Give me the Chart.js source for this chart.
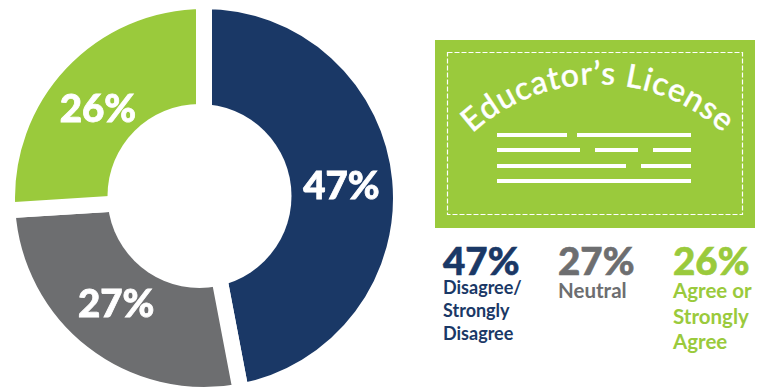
<!DOCTYPE html>
<html>
<head>
<meta charset="utf-8">
<title>Educator's License</title>
<script src="https://cdn.jsdelivr.net/npm/chart.js@4"></script>
<style>
  html, body { margin: 0; padding: 0; background: #fff; }
  body { width: 770px; height: 387px; overflow: hidden; position: relative; font-family: Lato, sans-serif; }
  #donut { position: absolute; left: -1px; top: -7px; }
  #card { position: absolute; left: 435px; top: 40px; }
  .key { position: absolute; top: 238px; }
  .key b { display: block; font-size: 38.5px; line-height: 44px; font-weight: 900; margin-bottom: -6px; -webkit-text-stroke: 0.6px currentColor; }
  .key span { display: block; font-size: 18px; line-height: 23px; font-weight: 700; }
  .key.wide b { margin-bottom: -4px; }
  .key.wide span { font-size: 20.5px; line-height: 25.5px; }
</style>
</head>
<body>
<canvas id="donut" width="410" height="410"></canvas>

<svg id="card" width="320" height="188" viewBox="0 0 320 188">
  <rect width="320" height="188" fill="#9aca3c"/>
  <rect x="12.5" y="12.5" width="295" height="162" fill="none" stroke="#fff" stroke-width="1.2" stroke-dasharray="5 2"/>
  <path id="curve" d="M 20 112 A 185 185 0 0 1 306 112" fill="none"/>
  <text font-family="Lato" font-size="32" font-weight="500" letter-spacing="0.9" fill="#fff" stroke="#fff" stroke-width="0.4" text-anchor="middle">
    <textPath href="#curve" startOffset="50%">Educator’s License</textPath>
  </text>
  <g id="rows" fill="#fff"></g>
</svg>

<div id="keys"></div>

<script>
const categories = ["Disagree/ Strongly Disagree", "Neutral", "Agree or Strongly Agree"];
const values = [47, 27, 26];
const colors = ["#1a3866", "#6d6e70", "#9aca3c"];
const keyLines = [["Disagree/", "Strongly", "Disagree"], ["Neutral"], ["Agree or", "Strongly", "Agree"]];
const keyLeft = [443, 558, 673];

// little text lines on the license card: [x, width] per row
const cardRows = [
    [[62, 70], [142, 114]],
    [[62, 83], [160, 43], [218, 38]],
    [[62, 129], [206, 50]],
    [[62, 194]]
];
const cardRowY = [93, 108, 124, 139];

const rows = document.getElementById("rows");
cardRows.forEach((row, i) => {
    row.forEach(seg => {
        const r = document.createElementNS("http://www.w3.org/2000/svg", "rect");
        r.setAttribute("x", seg[0]);
        r.setAttribute("y", cardRowY[i]);
        r.setAttribute("width", seg[1]);
        r.setAttribute("height", 4);
        rows.appendChild(r);
    });
});

const keys = document.getElementById("keys");
values.forEach((v, i) => {
    keys.innerHTML += `
    <div class="key${i > 0 ? " wide" : ""}" style="left:${keyLeft[i]}px;color:${colors[i]}">
        <b>${v}%</b>
        ${keyLines[i].map(l => `<span>${l}</span>`).join("")}
    </div>`;
});

// the hole sits a little up and left of the ring's centre
const offsetHole = {
    id: "offsetHole",
    afterDatasetsDraw(chart) {
        const arc = chart.getDatasetMeta(0).data[0];
        const ctx = chart.ctx;
        ctx.save();
        ctx.fillStyle = "#fff";
        ctx.beginPath();
        ctx.arc(arc.x - 4.5, arc.y - 2, 92, 0, Math.PI * 2);
        ctx.fill();
        ctx.restore();
    }
};

// percent labels on the slices, nudged from the arc midpoints
const labelNudge = [[-2, 2], [-2, -4], [-4, 7]];
const sliceLabels = {
    id: "sliceLabels",
    afterDraw(chart) {
        const ctx = chart.ctx;
        ctx.save();
        ctx.fillStyle = "#fff";
        ctx.strokeStyle = "#fff";
        ctx.lineWidth = 0.8;
        ctx.font = "900 38.5px Lato";
        ctx.textAlign = "center";
        ctx.textBaseline = "middle";
        chart.getDatasetMeta(0).data.forEach((arc, i) => {
            const mid = (arc.startAngle + arc.endAngle) / 2;
            const r = 140;
            const x = arc.x + Math.cos(mid) * r + labelNudge[i][0];
            const y = arc.y + Math.sin(mid) * r + labelNudge[i][1];
            ctx.fillText(values[i] + "%", x, y);
            ctx.strokeText(values[i] + "%", x, y);
        });
        ctx.restore();
    }
};

new Chart(document.getElementById("donut"), {
    type: "doughnut",
    data: {
        labels: categories,
        datasets: [{
            data: values,
            backgroundColor: colors,
            borderColor: "#fff",
            borderWidth: 16,
            borderAlign: "center"
        }]
    },
    options: {
        responsive: false,
        animation: false,
        cutout: "30%",
        plugins: {
            legend: { display: false },
            tooltip: { enabled: false }
        }
    },
    plugins: [offsetHole, sliceLabels]
});
</script>
</body>
</html>
